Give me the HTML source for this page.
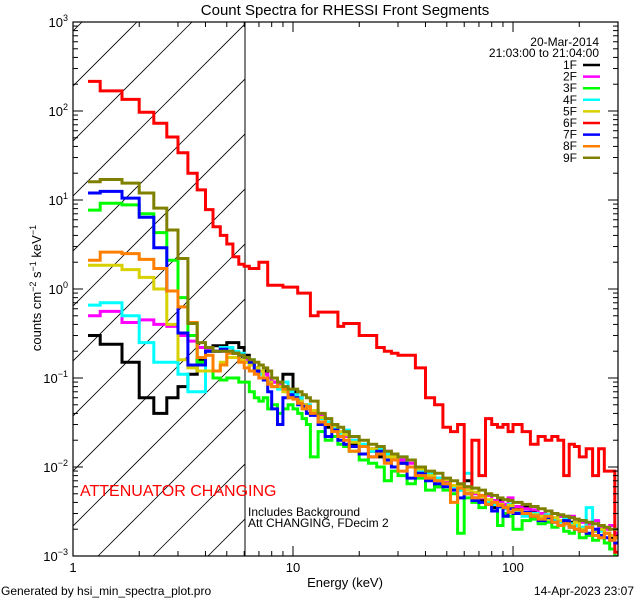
<!DOCTYPE html>
<html><head><meta charset="utf-8"><style>
html,body{margin:0;padding:0;background:#fff;}
svg{display:block;font-family:"Liberation Sans",sans-serif;}
</style></head><body>
<svg id="chart" width="640" height="600" viewBox="0 0 640 600" xmlns="http://www.w3.org/2000/svg">
<rect x="0" y="0" width="640" height="600" fill="#fff"/>
<defs><clipPath id="plotclip"><rect x="73" y="22" width="545" height="534"/></clipPath>
<clipPath id="hatchclip"><rect x="73" y="22" width="172" height="534"/></clipPath></defs>
<g id="hatch" clip-path="url(#hatchclip)"></g>
<line x1="245" y1="22" x2="245" y2="556" stroke="#000" stroke-width="1"/>
<g id="series" clip-path="url(#plotclip)"></g>
<g id="axes"></g>
<text x="345" y="15" font-size="15" text-anchor="middle">Count Spectra for RHESSI Front Segments</text>
<text x="345" y="587" font-size="13" text-anchor="middle">Energy (keV)</text>
<text transform="translate(41,288) rotate(-90)" font-size="13" text-anchor="middle">counts cm<tspan dy="-5" font-size="9">−2</tspan><tspan dy="5"> s</tspan><tspan dy="-5" font-size="9">−1</tspan><tspan dy="5"> keV</tspan><tspan dy="-5" font-size="9">−1</tspan></text>
<text x="80" y="496" font-size="16" fill="#ff0000">ATTENUATOR CHANGING</text>
<text x="248" y="516" font-size="12">Includes Background</text>
<text x="248" y="527" font-size="12">Att CHANGING, FDecim 2</text>
<text x="599" y="46" font-size="12" text-anchor="end">20-Mar-2014</text>
<text x="599" y="57" font-size="12" text-anchor="end">21:03:00 to 21:04:00</text>
<g id="legend"></g>
<text x="1" y="595" font-size="12">Generated by hsi_min_spectra_plot.pro</text>
<text x="634" y="595" font-size="12" text-anchor="end">14-Apr-2023 23:07</text>
</svg>
<script>
const edges=[1.17,1.33,1.67,2,2.33,2.67,3,3.33,3.67,4,4.33,4.67,5,5.33,5.67,6,6.33,6.67,7,7.33,7.67,8,8.5,9,9.5,10,10.5,11,11.5,12,13,14,15,16,17,18,20,22,24,26,28,30,33,36,40,44,48,52,56,60,65,70,75,80,85,90,95,100,110,120,130,140,150,160,170,180,190,200,215,230,245,260,275,290,300];
const seriesNames=["1F","2F","3F","4F","5F","6F","7F","8F","9F"];
const seriesColors=["#000000","#ff00ff","#00ff00","#00ffff","#d8d000","#ff0000","#0000ff","#ff8000","#808000"];
const s1F=[0.3,0.24,0.15,0.06,0.04,0.06,0.08,0.11,0.16,0.2,0.23,0.23,0.25,0.25,0.22,
0.18,0.15,0.13,0.12,0.12,0.1,0.09,0.08,0.11,0.11,0.07,0.06,0.05,0.047,0.04,0.036,0.028,0.027,0.022,0.025,0.018,0.017,0.015,0.013,0.014,0.012,0.011,0.01,0.008,0.0085,0.006,0.0068,0.006,0.0055,0.007,0.0045,0.0042,0.004,0.0035,0.0042,0.0036,0.0038,0.0034,0.0036,0.0031,0.0028,0.0032,0.0025,0.0028,0.0023,0.0024,0.0022,0.0025,0.0021,0.0019,0.002,0.0018,0.0016,0.0017];
const s2F=[0.5,0.56,0.42,0.45,0.4,0.38,0.3,0.26,0.22,0.21,0.2,0.2,0.2,0.19,0.18,
0.16,0.14,0.13,0.12,0.11,0.1,0.09,0.085,0.08,0.065,0.06,0.055,0.05,0.045,0.042,0.038,0.03,0.028,0.025,0.022,0.02,0.017,0.016,0.014,0.015,0.013,0.012,0.011,0.009,0.008,0.0075,0.007,0.006,0.0062,0.0055,0.005,0.0045,0.0048,0.0042,0.004,0.0038,0.0045,0.0036,0.0034,0.0033,0.003,0.0032,0.003,0.0028,0.0026,0.0028,0.0025,0.0024,0.0023,0.0025,0.0021,0.002,0.0022,0.0018];
const s3F=[7.7,9.2,8.8,7.0,4.3,2.1,0.8,0.3,0.15,0.12,0.1,0.095,0.1,0.1,0.09,
0.09,0.07,0.06,0.055,0.06,0.045,0.05,0.04,0.045,0.05,0.045,0.04,0.035,0.03,0.013,0.025,0.02,0.022,0.018,0.017,0.015,0.012,0.011,0.01,0.007,0.009,0.008,0.0065,0.0075,0.0055,0.006,0.0055,0.005,0.0018,0.0045,0.004,0.0035,0.0038,0.0032,0.0022,0.003,0.0028,0.002,0.0025,0.0026,0.0023,0.0024,0.0021,0.0022,0.0019,0.0018,0.002,0.0016,0.0017,0.0015,0.0016,0.0014,0.0012,0.001];
const s4F=[0.66,0.7,0.5,0.25,0.15,0.15,0.11,0.07,0.07,0.2,0.2,0.22,0.22,0.2,0.19,
0.17,0.16,0.13,0.11,0.1,0.085,0.08,0.075,0.09,0.07,0.065,0.06,0.048,0.05,0.04,0.035,0.032,0.028,0.024,0.026,0.02,0.018,0.015,0.016,0.014,0.012,0.013,0.01,0.009,0.0085,0.0075,0.0065,0.006,0.0055,0.0085,0.0045,0.0046,0.004,0.0038,0.0035,0.0034,0.0038,0.0032,0.0028,0.003,0.0027,0.0029,0.0025,0.0024,0.0026,0.0023,0.0022,0.0021,0.0035,0.002,0.0019,0.0018,0.0017,0.0016];
const s5F=[1.85,1.85,1.65,1.35,1.0,0.4,0.16,0.13,0.12,0.12,0.12,0.15,0.17,0.17,0.16,
0.15,0.14,0.13,0.12,0.1,0.09,0.08,0.08,0.07,0.06,0.06,0.055,0.05,0.046,0.043,0.036,0.03,0.029,0.025,0.023,0.019,0.017,0.016,0.015,0.013,0.013,0.011,0.01,0.0095,0.008,0.007,0.0072,0.0062,0.006,0.0055,0.0052,0.0046,0.0043,0.004,0.0038,0.0035,0.0037,0.0033,0.0031,0.0029,0.0028,0.0026,0.0027,0.0025,0.0023,0.0022,0.0024,0.002,0.0021,0.0019,0.002,0.0018,0.0017,0.0016];
const s6F=[215,168,135,97,73,51,34,20,13,7.8,5.0,4.0,3.2,2.3,1.9,
1.8,1.7,1.7,2.0,2.0,1.1,1.1,1.1,1.05,1.05,1.05,0.9,0.9,0.9,0.5,0.55,0.55,0.55,0.38,0.41,0.41,0.3,0.3,0.22,0.2,0.19,0.18,0.18,0.13,0.06,0.05,0.028,0.025,0.03,0.006,0.02,0.008,0.035,0.03,0.028,0.03,0.025,0.03,0.025,0.018,0.022,0.02,0.022,0.02,0.008,0.018,0.017,0.013,0.016,0.008,0.016,0.009,0.009,0.0011];
const s7F=[12,12.5,10.5,6.4,2.9,0.95,0.32,0.14,0.14,0.2,0.2,0.21,0.2,0.19,0.18,
0.17,0.15,0.12,0.1,0.095,0.07,0.045,0.03,0.06,0.065,0.06,0.05,0.048,0.04,0.038,0.03,0.022,0.026,0.02,0.018,0.017,0.014,0.013,0.015,0.012,0.01,0.011,0.0075,0.0085,0.007,0.0065,0.006,0.0055,0.0045,0.005,0.0042,0.004,0.0038,0.0032,0.0036,0.0028,0.0034,0.003,0.0031,0.0028,0.0025,0.0027,0.0024,0.0022,0.0025,0.0021,0.002,0.0019,0.0018,0.002,0.0017,0.0016,0.0015,0.0014];
const s8F=[2.1,2.6,2.5,2.15,1.7,0.95,0.63,0.42,0.17,0.18,0.12,0.14,0.19,0.19,0.15,
0.13,0.12,0.11,0.1,0.1,0.085,0.08,0.09,0.075,0.06,0.058,0.052,0.045,0.048,0.04,0.032,0.03,0.025,0.022,0.02,0.015,0.017,0.013,0.014,0.011,0.012,0.009,0.01,0.008,0.0075,0.007,0.0065,0.004,0.0058,0.005,0.0045,0.0048,0.0038,0.004,0.0037,0.0035,0.0031,0.0033,0.003,0.0028,0.0026,0.0028,0.0024,0.0022,0.0023,0.0021,0.002,0.0019,0.0021,0.0017,0.0016,0.0018,0.0015,0.0016];
const s9F=[16,17,15.5,12,8.1,4.6,2.2,0.41,0.25,0.22,0.2,0.2,0.2,0.19,0.18,
0.17,0.16,0.15,0.14,0.13,0.12,0.1,0.09,0.08,0.075,0.075,0.07,0.065,0.06,0.055,0.04,0.035,0.03,0.028,0.025,0.022,0.02,0.018,0.017,0.015,0.014,0.013,0.012,0.01,0.009,0.0085,0.0075,0.007,0.0065,0.006,0.0058,0.0055,0.005,0.0048,0.0045,0.0043,0.0042,0.004,0.0038,0.0036,0.0034,0.0032,0.003,0.0029,0.0028,0.0027,0.0026,0.0025,0.0024,0.0023,0.0022,0.0021,0.002,0.002];
const xTickLabels=["1","10","100"];
const yTickExps=[-3,-2,-1,0,1,2,3];

const NS="http://www.w3.org/2000/svg";
const X0=73,X1=618,Y0=22,Y1=556;
const xMinLog=0,xMaxLog=Math.log10(300),yMinLog=-3,yMaxLog=3;
function xs(e){return X0+(Math.log10(e)-xMinLog)/(xMaxLog-xMinLog)*(X1-X0);}
function ys(v){const l=Math.log10(Math.max(v,1e-4));return Y1-(l-yMinLog)/(yMaxLog-yMinLog)*(Y1-Y0);}
function mk(t,a,p){const el=document.createElementNS(NS,t);for(const k in a)el.setAttribute(k,a[k]);(p||document.getElementById('chart')).appendChild(el);return el;}

// hatch
const hatch=document.getElementById('hatch');
for(let k=-2;k<16;k++){const c=159+55*k;
 const ln=mk('line',{x1:c-Y1,y1:Y1,x2:c-Y0,y2:Y0,stroke:'#000','stroke-width':0.8},hatch);
 
 
}

// series
const allSeries=[s1F,s2F,s3F,s4F,s5F,s6F,s7F,s8F,s9F];
const sg=document.getElementById('series');
allSeries.forEach((vals,i)=>{
 let d='';
 const n=Math.min(vals.length,edges.length-1);
 for(let b=0;b<n;b++){
  const xa=xs(edges[b]).toFixed(1),xb=xs(edges[b+1]).toFixed(1),y=ys(vals[b]).toFixed(1);
  d+=(b===0?'M':'L')+xa+' '+y+' L'+xb+' '+y+' ';
 }
 const p=mk('path',{d:d,fill:'none',stroke:seriesColors[i],'stroke-width':3,'stroke-linejoin':'miter'},sg);
 
 
});

// axes
const ax=document.getElementById('axes');
const frame=mk('rect',{x:X0,y:Y0,width:X1-X0,height:Y1-Y0,fill:'none',stroke:'#000','stroke-width':1.2},ax);


for(let dec=0;dec<3;dec++){
 for(let m=1;m<10;m++){
  const e=Math.pow(10,dec)*m; if(e>300)break;
  const x=xs(e); const L=m===1?10:5;
  const t1=mk('line',{x1:x,y1:Y1,x2:x,y2:Y1-L,stroke:'#000'},ax);
  
  
  const t2=mk('line',{x1:x,y1:Y0,x2:x,y2:Y0+L,stroke:'#000'},ax);
  
  
 }
}
xTickLabels.forEach((lab,i)=>{
 const t=mk('text',{x:xs(Math.pow(10,i)),y:572,'font-size':13,'text-anchor':'middle'},ax);
 t.textContent=lab;
 
 
});
for(let dec=-3;dec<3;dec++){
 for(let m=1;m<10;m++){
  const y=ys(Math.pow(10,dec)*m); const L=m===1?10:5;
  const t1=mk('line',{x1:X0,y1:y,x2:X0+L,y2:y,stroke:'#000'},ax);
  
  
  const t2=mk('line',{x1:X1,y1:y,x2:X1-L,y2:y,stroke:'#000'},ax);
  
  
 }
}
yTickExps.forEach(ex=>{
 const y=ys(Math.pow(10,ex));
 const t=mk('text',{x:68,y:y+5,'font-size':13,'text-anchor':'end'},ax);
 
 
 const a=document.createElementNS(NS,'tspan');a.textContent='10';t.appendChild(a);
 const b=document.createElementNS(NS,'tspan');b.setAttribute('dy','-6');b.setAttribute('font-size','9');
 b.textContent=ex<0?'−'+(-ex):String(ex);t.appendChild(b);
});

// legend
const lg=document.getElementById('legend');
seriesNames.forEach((nm,i)=>{
 const y=65+i*11.6;
 const t=mk('text',{x:577,y:y+4,'font-size':12,'text-anchor':'end'},lg);
 t.textContent=nm;
 
 
 const l=mk('line',{x1:583,y1:y,x2:600,y2:y,stroke:seriesColors[i],'stroke-width':2.5},lg);
 
 
});
</script>
</body></html>
